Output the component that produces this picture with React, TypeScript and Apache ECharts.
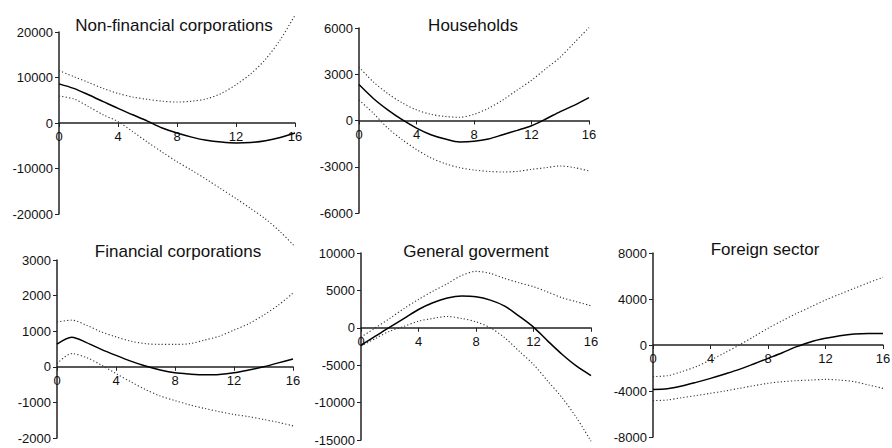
import React, { useEffect, useRef } from "react";
import * as echarts from "echarts";

const steps = [0, 1, 2, 3, 4, 5, 6, 7, 8, 9, 10, 11, 12, 13, 14, 15, 16];
const xTicks = [0, 4, 8, 12, 16];

const titles = [
  "Non-financial corporations",
  "Households",
  "Financial corporations",
  "General goverment",
  "Foreign sector",
];

// Non-financial corporations
const nfcMid = [8600, 7600, 6200, 4700, 3200, 1800, 400, -1100, -2200, -3100, -3800, -4200, -4400, -4300, -3900, -3200, -2200];
const nfcUp = [11500, 10200, 8900, 7600, 6500, 5700, 5200, 4800, 4600, 4800, 5300, 6500, 8400, 10800, 14000, 18300, 23700];
const nfcLo = [5900, 5300, 3600, 1800, 300, -1900, -4200, -6400, -8500, -10400, -12400, -14500, -16600, -18800, -21100, -23900, -27200];

// Households
const hhMid = [2330, 1430, 690, 50, -490, -920, -1200, -1390, -1350, -1200, -920, -640, -340, 100, 580, 1000, 1480];
const hhUp = [3470, 2500, 1750, 1150, 690, 400, 260, 210, 400, 790, 1330, 1970, 2610, 3360, 4110, 5070, 6030];
const hhLo = [1330, 470, -490, -1240, -1880, -2420, -2800, -3060, -3210, -3300, -3340, -3300, -3170, -3060, -2950, -3060, -3270];

// Financial corporations
const fcMid = [635, 830, 680, 490, 320, 160, 20, -90, -170, -205, -225, -215, -170, -90, 0, 110, 220];
const fcUp = [1260, 1310, 1170, 980, 840, 720, 650, 630, 630, 650, 750, 860, 1030, 1210, 1450, 1730, 2070];
const fcLo = [90, 370, 260, 50, -190, -420, -640, -820, -950, -1070, -1170, -1260, -1340, -1400, -1480, -1560, -1660];

// General goverment
const ggMid = [-2320, -1120, 90, 1250, 2450, 3350, 3970, 4240, 4150, 3700, 2900, 1560, 90, -1780, -3570, -5130, -6380];
const ggUp = [-1250, 0, 1250, 2590, 3790, 4900, 5890, 7000, 7540, 7270, 6600, 6020, 5490, 4770, 4010, 3480, 2940];
const ggLo = [-2450, -1430, -450, 200, 890, 1250, 1520, 1250, 800, 0, -1340, -3120, -4900, -7140, -9370, -12040, -15170];

// Foreign sector
const fsMid = [-3860, -3800, -3570, -3250, -2900, -2520, -2120, -1650, -1160, -670, -145, 290, 580, 810, 960, 1010, 1010];
const fsUp = [-2750, -2670, -2320, -1880, -1300, -670, 0, 720, 1450, 2120, 2750, 3330, 3910, 4430, 4930, 5420, 5880];
const fsLo = [-4840, -4780, -4580, -4400, -4200, -4000, -3770, -3540, -3330, -3190, -3100, -3050, -2990, -3050, -3190, -3480, -3770];

const yMins = [-20000, -6000, -2000, -15000, -8000];
const yMaxs = [20000, 6000, 3000, 10000, 8000];
const yIntervals = [10000, 3000, 1000, 5000, 4000];

const panelData = [
  [nfcMid, nfcUp, nfcLo],
  [hhMid, hhUp, hhLo],
  [fcMid, fcUp, fcLo],
  [ggMid, ggUp, ggLo],
  [fsMid, fsUp, fsLo],
];

const grids = [
  { left: 59, top: 32, width: 236, height: 182 },
  { left: 359, top: 28, width: 230, height: 185 },
  { left: 57, top: 260, width: 236, height: 178 },
  { left: 361, top: 253, width: 230, height: 187 },
  { left: 653, top: 253, width: 230, height: 184 },
];

const titlePos = [
  [174, 25],
  [473, 25],
  [178, 251],
  [476, 251],
  [765, 249],
];

const FONT = "Liberation Sans, Arial, Helvetica, sans-serif";
const AXIS_COLOR = "#222";

export default function App() {
  const ref = useRef<HTMLDivElement>(null);
  useEffect(() => {
    if (!ref.current) return;
    const chart = echarts.init(ref.current, undefined, { renderer: "svg" });
    const xAxis = grids.map((g, i) => ({
      type: "value",
      gridIndex: i,
      position: "bottom",
      // move the x axis up to the zero line of its y scale
      offset: -g.height * (0 - yMins[i]) / (yMaxs[i] - yMins[i]),
      min: xTicks[0],
      max: xTicks[xTicks.length - 1],
      interval: 4,
      axisLine: { show: true, onZero: false, lineStyle: { color: AXIS_COLOR, width: 1.5 } },
      axisTick: { show: true, length: 4, lineStyle: { color: AXIS_COLOR, width: 1 } },
      axisLabel: { color: "#111", fontSize: 13, fontFamily: FONT, margin: 7 },
      splitLine: { show: false },
    }));
    const yAxis = grids.map((_, i) => ({
      type: "value",
      gridIndex: i,
      min: yMins[i],
      max: yMaxs[i],
      interval: yIntervals[i],
      axisLine: { show: true, onZero: false, lineStyle: { color: AXIS_COLOR, width: 1.5 } },
      axisTick: { show: true, length: 4, lineStyle: { color: AXIS_COLOR, width: 1 } },
      axisLabel: {
        color: "#111",
        fontSize: 13,
        fontFamily: FONT,
        margin: 6,
        formatter: (v: number) => String(v),
      },
      splitLine: { show: false },
    }));
    const series: any[] = [];
    panelData.forEach((arrs, i) => {
      arrs.forEach((vals, k) => {
        series.push({
          type: "line",
          xAxisIndex: i,
          yAxisIndex: i,
          data: vals.map((v, j) => [steps[j], v]),
          showSymbol: false,
          symbol: "none",
          smooth: 0.3,
          clip: false,
          silent: true,
          z: k === 0 ? 3 : 2,
          lineStyle:
            k === 0
              ? { color: "#000", width: 1.5, type: "solid" }
              : { color: "#333", width: 1.1, type: [1.2, 2.2] },
        });
      });
    });
    chart.setOption({
      animation: false,
      backgroundColor: "#fff",
      grid: grids.map((g) => ({ ...g, containLabel: false, outerBoundsMode: "none" })),
      xAxis,
      yAxis,
      series,
      graphic: titles.map((t, i) => ({
        type: "text",
        x: titlePos[i][0],
        y: titlePos[i][1],
        z: 10,
        style: {
          text: t,
          fill: "#111",
          fontSize: 17,
          fontFamily: FONT,
          align: "center",
          verticalAlign: "middle",
        },
      })),
    });
    return () => chart.dispose();
  }, []);
  return (
    <div
      ref={ref}
      style={{ position: "fixed", left: 0, top: 0, width: 892, height: 448, background: "#fff" }}
    />
  );
}
